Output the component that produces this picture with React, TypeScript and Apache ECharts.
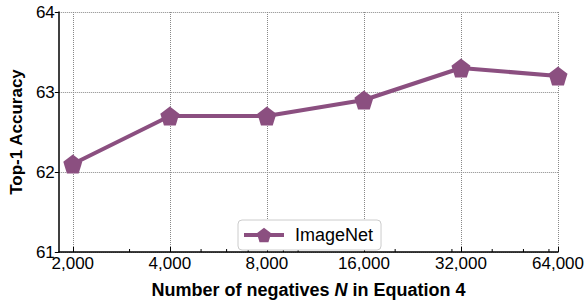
import React, { useEffect, useRef } from "react";
import * as echarts from "echarts";

const categories = [2000, 4000, 8000, 16000, 32000, 64000];
const accuracy = [62.1, 62.7, 62.7, 62.9, 63.3, 63.2];
const minorTickValues = [3000, 5000, 6000, 7000, 9000, 10000, 20000, 30000, 40000, 50000, 60000];
const xMinN = 1810;
const yTicks = [61, 62, 63, 64];

const COLOR = "#8B4F80";
const FONT = "Liberation Sans";
const pentagon = "path://M50,0 L100,38 L81,100 L19,100 L0,38 Z";

const toX = (n: number) => Math.log2(n / 1000);

export default function App() {
  const ref = useRef<HTMLDivElement>(null);
  useEffect(() => {
    if (!ref.current) return;
    const chart = echarts.init(ref.current, null, { renderer: "svg" });
    const majorX = categories.map(toX);
    chart.setOption({
      animation: false,
      backgroundColor: "#fff",
      grid: { left: 58, right: 28, top: 12, bottom: 44, containLabel: false },
      legend: {
        data: ["ImageNet"],
        left: 238,
        top: 220,
        padding: [6, 8, 6, 4],
        itemWidth: 40,
        itemHeight: 18,
        backgroundColor: "#fff",
        borderColor: "#cccccc",
        borderWidth: 1,
        borderRadius: 4,
        lineStyle: { width: 4 },
        textStyle: { fontSize: 18, color: "#000", fontFamily: FONT, padding: [0, 0, 0, 6] },
      },
      xAxis: {
        type: "value",
        min: toX(xMinN),
        max: toX(64000),
        name: "Number of negatives {i|N} in Equation 4",
        nameLocation: "middle",
        nameGap: 29,
        nameTextStyle: {
          fontSize: 18,
          fontWeight: "bold",
          color: "#000",
          fontFamily: FONT,
          rich: {
            i: { fontSize: 18, fontWeight: "bold", fontStyle: "italic", color: "#000", fontFamily: FONT },
          },
        },
        axisLine: { show: true, lineStyle: { color: "#000", width: 1.5 } },
        axisTick: {
          show: true,
          inside: true,
          length: 5,
          customValues: majorX,
          lineStyle: { color: "#000", width: 1 },
        },
        axisLabel: {
          customValues: majorX,
          fontSize: 17,
          color: "#000",
          fontFamily: FONT,
          margin: 3,
          formatter: (v: number) => Math.round(Math.pow(2, v) * 1000).toLocaleString("en-US"),
        },
        splitLine: { show: true, lineStyle: { color: "#888", type: "dotted", width: 1 } },
      },
      yAxis: {
        type: "value",
        min: yTicks[0],
        max: yTicks[yTicks.length - 1],
        interval: 1,
        name: "Top-1 Accuracy",
        nameLocation: "middle",
        nameGap: 32,
        nameTextStyle: { fontSize: 17, fontWeight: "bold", color: "#000", fontFamily: FONT },
        axisLine: { show: true, lineStyle: { color: "#000", width: 1.5 } },
        axisTick: { show: true, inside: false, length: 4, lineStyle: { color: "#000", width: 1 } },
        axisLabel: { fontSize: 17, color: "#000", fontFamily: FONT, margin: 4 },
        splitLine: { show: true, lineStyle: { color: "#888", type: "dotted", width: 1 } },
      },
      series: [
        {
          name: "ImageNet",
          type: "line",
          data: categories.map((n, i) => [toX(n), accuracy[i]]),
          symbol: pentagon,
          symbolSize: 19,
          symbolKeepAspect: true,
          itemStyle: { color: COLOR },
          lineStyle: { color: COLOR, width: 4 },
          z: 5,
        },
        {
          name: "minor",
          type: "custom",
          silent: true,
          data: minorTickValues.map((n) => [toX(n), yTicks[0]]),
          renderItem: (params: any, api: any) => {
            const p = api.coord([api.value(0), api.value(1)]);
            return {
              type: "line",
              shape: { x1: p[0], y1: p[1], x2: p[0], y2: p[1] - 3 },
              style: { stroke: "#000", lineWidth: 1 },
            };
          },
          z: 3,
        },
      ],
    });
    return () => chart.dispose();
  }, []);
  return <div ref={ref} style={{ width: 587, height: 304, position: "absolute", left: 0, top: 0 }} />;
}
